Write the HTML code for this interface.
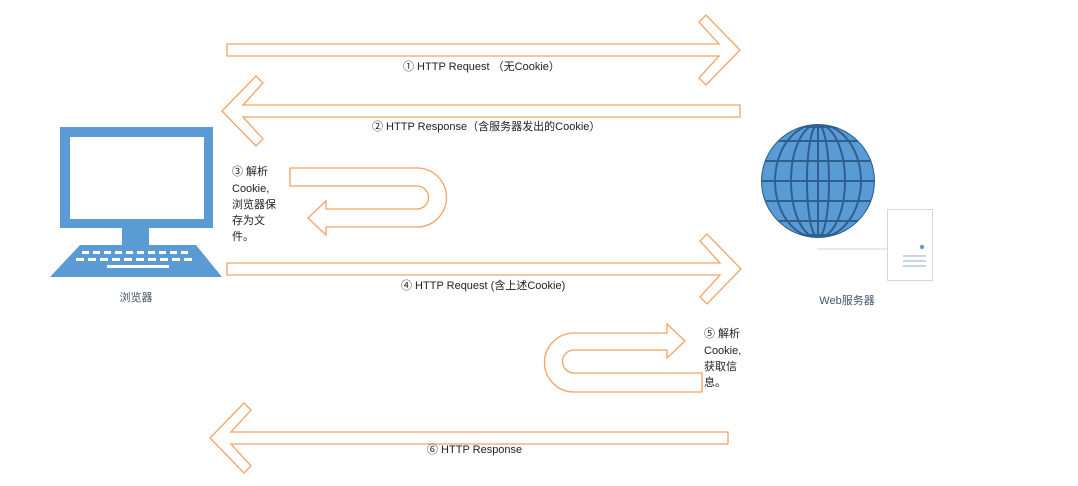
<!DOCTYPE html>
<html><head><meta charset="utf-8"><style>
html,body{margin:0;padding:0;background:#fff;width:1078px;height:486px;overflow:hidden}
svg{display:block}
text{font-family:"Liberation Sans","Noto Sans CJK SC",sans-serif;font-size:11px;fill:#222}
</style></head><body>
<svg width="1078" height="486" viewBox="0 0 1078 486" xmlns="http://www.w3.org/2000/svg">
<defs><clipPath id="g"><circle cx="818" cy="181" r="56"/></clipPath></defs>
<g fill="#fff" stroke="#f5a262" stroke-width="1.3" stroke-linejoin="miter">
<polygon points="227,44 719,44 699,22 706,15 740,50 706,85 699,78 719,56 227,56"/>
<polygon points="740,105 243,105 263,83 256,76 222,111 256,146 263,139 243,117 740,117"/>
<polygon points="227,263 720,263 700,241 707,234 741,269 707,304 700,297 720,275 227,275"/>
<polygon points="728,432 231,432 251,410 244,403 210,438 244,473 251,466 231,444 728,444"/>
<path d="M290,168 H417 A29.5,29.5 0 0 1 417,227 H326 V235 L308,218 L326,201 V209 H417 A11.5,11.5 0 0 0 417,186 H290 Z"/>
<path d="M702,392 H574 A29.5,29.5 0 0 1 574,333 H667 V324 L685,341 L667,358 V350 H574 A11.5,11.5 0 0 0 574,373 H702 Z"/>
</g>
<!-- computer -->
<rect x="60" y="127" width="153" height="101" fill="#5b9bd5"/>
<rect x="70" y="137" width="134" height="82" fill="#fff"/>
<rect x="122" y="228" width="27" height="17" fill="#5b9bd5"/>
<polygon points="80,245 196,245 222,277 50,277" fill="#5b9bd5"/>
<g fill="#fff">
<rect x="82" y="251" width="7" height="3"/><rect x="93" y="251" width="7" height="3"/><rect x="104" y="251" width="7" height="3"/><rect x="115" y="251" width="7" height="3"/><rect x="126" y="251" width="7" height="3"/><rect x="137" y="251" width="7" height="3"/><rect x="148" y="251" width="7" height="3"/><rect x="159" y="251" width="7" height="3"/><rect x="170" y="251" width="7" height="3"/><rect x="181" y="251" width="7" height="3"/>
<rect x="76" y="258" width="8" height="3"/><rect x="88" y="258" width="8" height="3"/><rect x="100" y="258" width="8" height="3"/><rect x="112" y="258" width="8" height="3"/><rect x="124" y="258" width="8" height="3"/><rect x="136" y="258" width="8" height="3"/><rect x="148" y="258" width="8" height="3"/><rect x="160" y="258" width="8" height="3"/><rect x="172" y="258" width="8" height="3"/><rect x="184" y="258" width="8" height="3"/>
<rect x="107" y="265" width="62" height="3"/>
</g>
<text x="136" y="301" text-anchor="middle" style="fill:#44546a">浏览器</text>
<!-- globe -->
<circle cx="818" cy="181" r="57" fill="#2e5f8f"/>
<g clip-path="url(#g)">
<circle cx="818" cy="181" r="56" fill="#5b9bd5"/>
<g fill="none" stroke="#2e5f8f" stroke-width="2">
<ellipse cx="818" cy="181" rx="11" ry="57"/>
<ellipse cx="818" cy="181" rx="27" ry="57"/>
<ellipse cx="818" cy="181" rx="43" ry="57"/>
<line x1="818" y1="120" x2="818" y2="240"/>
<line x1="750" y1="181" x2="880" y2="181"/>
<line x1="750" y1="161" x2="880" y2="161"/>
<line x1="750" y1="141" x2="880" y2="141"/>
<line x1="750" y1="201" x2="880" y2="201"/>
<line x1="750" y1="221" x2="880" y2="221"/>
<line x1="750" y1="127" x2="880" y2="127"/>
<line x1="750" y1="235" x2="880" y2="235"/>
</g></g>
<line x1="817" y1="249" x2="887" y2="249" stroke="#c9d3dd" stroke-width="1"/>
<rect x="887.5" y="209.5" width="45" height="71" fill="#fff" stroke="#d0d7df"/>
<circle cx="922" cy="247" r="2.2" fill="#5b9bd5"/>
<g stroke="#8fa9c4" stroke-width="1"><line x1="903" y1="256" x2="926" y2="256"/><line x1="903" y1="261" x2="926" y2="261"/><line x1="903" y1="266" x2="926" y2="266"/></g>
<text x="847" y="304" text-anchor="middle" style="fill:#44546a">Web服务器</text>
<!-- labels -->
<text x="403" y="70">① HTTP Request （无Cookie）</text>
<text x="372" y="130">② HTTP Response（含服务器发出的Cookie）</text>
<text x="401" y="289">④ HTTP Request (含上述Cookie)</text>
<text x="427" y="453">⑥ HTTP Response</text>
<text x="232" y="175">③ 解析</text>
<text x="232" y="192">Cookie,</text>
<text x="232" y="208">浏览器保</text>
<text x="232" y="224">存为文</text>
<text x="232" y="240">件。</text>
<text x="704" y="337">⑤ 解析</text>
<text x="704" y="354">Cookie,</text>
<text x="704" y="370">获取信</text>
<text x="704" y="386">息。</text>
</svg>
</body></html>
